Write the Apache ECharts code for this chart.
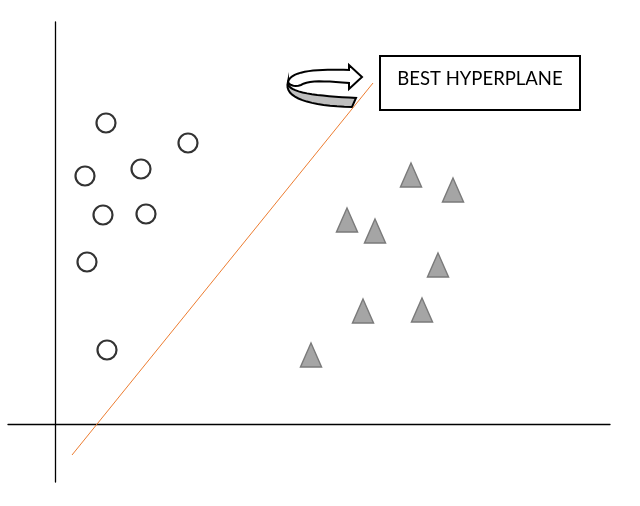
<!DOCTYPE html>
<html>
<head>
<meta charset="utf-8">
<script src="https://cdn.jsdelivr.net/npm/echarts@6/dist/echarts.min.js"></script>
<style>
  html, body { margin: 0; padding: 0; background: #fff; }
  #main { width: 640px; height: 506px; }
</style>
</head>
<body>
<div id="main"></div>
<script>
// class A (circles) and class B (triangles)
var circleX = [5.1, 13.3, 3.0, 8.6, 4.8, 9.1, 3.2, 5.2];
var circleY = [30.1, 28.1, 24.8, 25.5, 20.9, 21.0, 16.2, 7.4];
var triX = [35.6, 39.8, 29.2, 32.0, 38.3, 30.8, 36.7, 25.6];
var triY = [24.9, 23.4, 20.4, 19.3, 15.9, 11.3, 11.4, 6.9];
// separating line end points
var lineX = [1.7, 31.8];
var lineY = [-3.1, 34.1];
var boxLabel = 'BEST HYPERPLANE';

var chart = echarts.init(document.getElementById('main'));

function pairs(xs, ys) {
  return xs.map(function (x, i) { return [x, ys[i]]; });
}

// sample a cubic bezier into points (for the curved arrow decoration)
function bez(p0, p1, p2, p3, n) {
  var out = [];
  for (var i = 0; i <= n; i++) {
    var t = i / n, u = 1 - t;
    out.push([
      u * u * u * p0[0] + 3 * u * u * t * p1[0] + 3 * u * t * t * p2[0] + t * t * t * p3[0],
      u * u * u * p0[1] + 3 * u * u * t * p1[1] + 3 * u * t * t * p2[1] + t * t * t * p3[1]
    ]);
  }
  return out;
}

var grayBand = [].concat(
  bez([288, 82], [286, 93], [318, 96], [356, 98], 16),
  [[352, 107]],
  bez([352, 107], [310, 106], [283, 98], [288, 82], 16)
);

var topArrow = [].concat(
  bez([288, 82], [291, 70], [320, 69], [349, 70], 16),
  [[349, 65], [362, 77], [349, 89]],
  bez([349, 83], [326, 81], [308, 80], [301, 85], 10),
  bez([301, 85], [296, 87], [290, 86], [288, 82], 6)
);

var axisLine = {
  show: true,
  onZero: true,
  lineStyle: { color: '#000', width: 1.3 }
};

var option = {
  backgroundColor: '#fff',
  animation: false,
  grid: { left: 8, right: 30, top: 22, bottom: 24 },
  xAxis: {
    type: 'value',
    min: -4.7,
    max: 55.5,
    axisLine: axisLine,
    axisTick: { show: false },
    axisLabel: { show: false },
    splitLine: { show: false }
  },
  yAxis: {
    type: 'value',
    min: -5.8,
    max: 40.2,
    axisLine: axisLine,
    axisTick: { show: false },
    axisLabel: { show: false },
    splitLine: { show: false }
  },
  series: [
    {
      type: 'line',
      data: pairs(lineX, lineY),
      symbol: 'none',
      lineStyle: { color: '#ED7D31', width: 1 },
      z: 1
    },
    {
      type: 'scatter',
      data: pairs(circleX, circleY),
      symbol: 'circle',
      symbolSize: 19,
      itemStyle: { color: '#fff', borderColor: '#000', borderWidth: 2.2 },
      z: 3
    },
    {
      type: 'scatter',
      data: pairs(triX, triY),
      symbol: 'triangle',
      symbolSize: [21, 24],
      itemStyle: { color: '#A5A5A5', borderColor: '#7A7A7A', borderWidth: 1.5, opacity: 1 },
      z: 3
    }
  ],
  graphic: [
    {
      type: 'rect',
      shape: { x: 380, y: 56, width: 200, height: 54 },
      style: { fill: '#fff', stroke: '#000', lineWidth: 2 }
    },
    {
      type: 'text',
      x: 480,
      y: 79,
      style: {
        text: boxLabel,
        fill: '#000',
        font: '18.5px Lato, "Liberation Sans", sans-serif',
        align: 'center',
        verticalAlign: 'middle'
      }
    },
    {
      type: 'polygon',
      shape: { points: grayBand },
      style: { fill: '#BFBFBF', stroke: '#000', lineWidth: 2 }
    },
    {
      type: 'polygon',
      shape: { points: topArrow },
      style: { fill: '#fff', stroke: '#000', lineWidth: 2 }
    }
  ]
};

chart.setOption(option);
</script>
</body>
</html>
